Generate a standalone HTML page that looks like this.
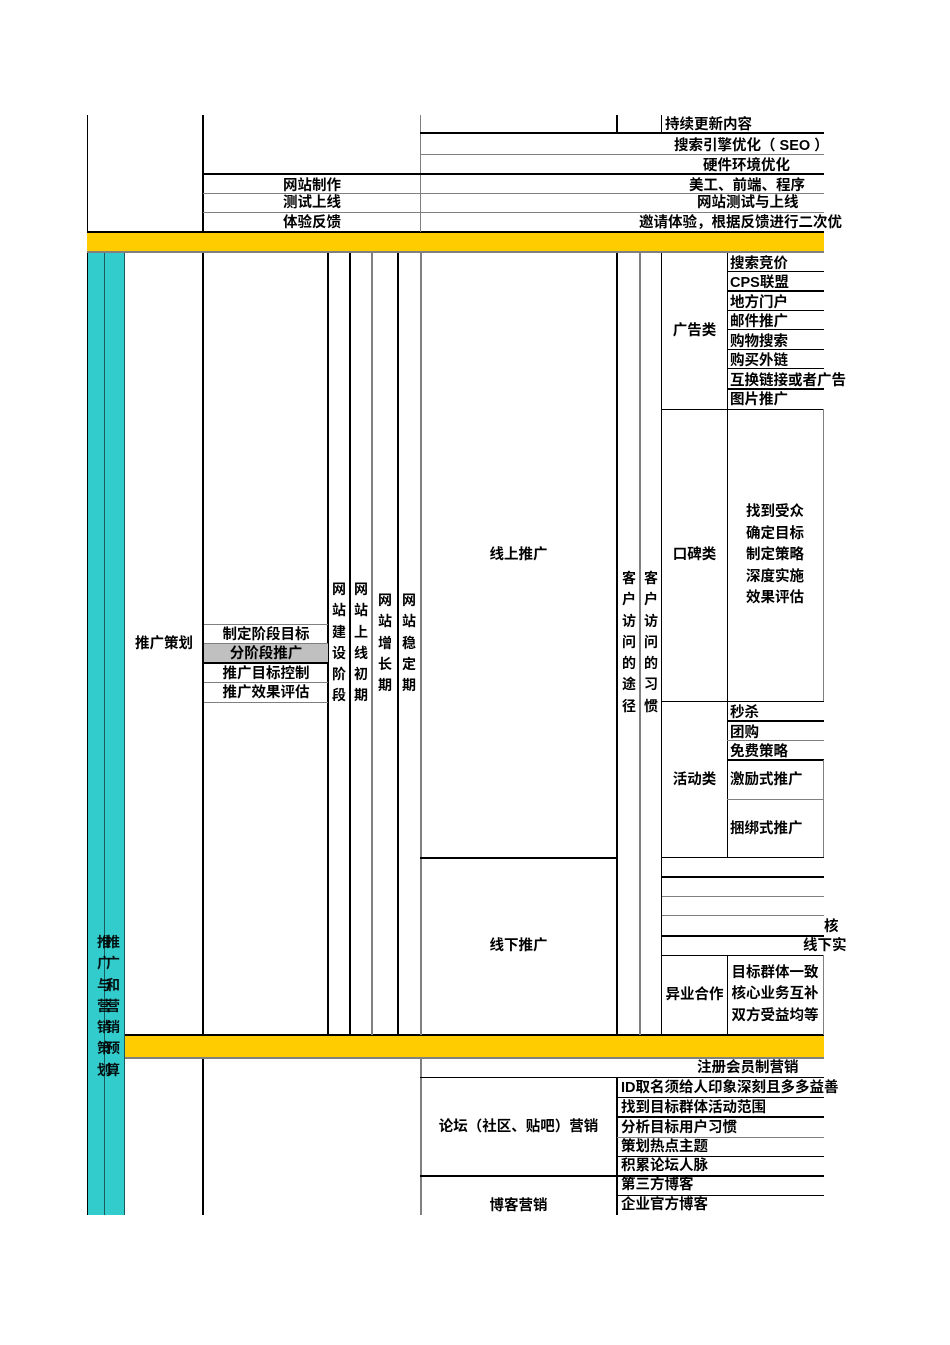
<!DOCTYPE html>
<html><head><meta charset="utf-8">
<style>
*{margin:0;padding:0;box-sizing:border-box}
body{width:950px;height:1345px;background:#fff;position:relative;overflow:hidden;font-family:"Liberation Sans","Noto Sans CJK SC","WenQuanYi Zen Hei",sans-serif;font-weight:bold;font-size:14.5px;color:#000}
div{position:absolute}
.k{background:#000}
.g{background:#808080}
.t{white-space:nowrap;line-height:16px;height:16px;margin-top:1px}
.c{text-align:center}
.v{width:18px;text-align:center;line-height:21.3px;white-space:normal;font-size:14px}
</style></head><body>
<div style="left:87px;top:232px;width:737px;height:20px;background:#ffcc00"></div>
<div style="left:125px;top:1035px;width:699px;height:23px;background:#ffcc00"></div>
<div class="k" style="left:87px;top:231px;width:737px;height:2px"></div>
<div class="g" style="left:87px;top:251px;width:737px;height:2px"></div>
<div class="k" style="left:125px;top:1034px;width:699px;height:2px"></div>
<div class="g" style="left:125px;top:1057px;width:699px;height:2px"></div>
<div style="left:87px;top:253px;width:38px;height:962px;background:#33cccc"></div>
<div class="k" style="left:87px;top:253px;width:1px;height:962px"></div>
<div style="left:104px;top:253px;width:1px;height:962px;background:#1a5a5a"></div>
<div style="left:124px;top:253px;width:1px;height:962px;background:#1a5a5a"></div>
<div class="v" style="left:95px;top:932px;opacity:.9">推广与营销策划</div>
<div class="v" style="left:104px;top:932px;opacity:.9">推广和营销预算</div>

<div class="k" style="left:87px;top:115px;width:1px;height:117px"></div>
<div class="k" style="left:202px;top:115px;width:2px;height:117px"></div>
<div class="g" style="left:420px;top:115px;width:1px;height:117px"></div>
<div class="k" style="left:616px;top:115px;width:2px;height:18px"></div>
<div class="k" style="left:661px;top:115px;width:1px;height:18px"></div>
<div class="k" style="left:420px;top:132px;width:404px;height:2px"></div>
<div class="g" style="left:420px;top:154px;width:404px;height:1px"></div>
<div class="k" style="left:203px;top:173px;width:621px;height:2px"></div>
<div class="g" style="left:203px;top:193px;width:621px;height:1px"></div>
<div class="g" style="left:203px;top:212px;width:621px;height:1px"></div>
<div class="t" style="left:665px;top:116px">持续更新内容</div>
<div class="t" style="left:674px;top:137px">搜索引擎优化（ SEO ）</div>
<div class="t" style="left:703px;top:157px">硬件环境优化</div>
<div class="t" style="left:689px;top:177px">美工、前端、程序</div>
<div class="t" style="left:697px;top:194px">网站测试与上线</div>
<div class="t" style="left:639px;top:214px">邀请体验，根据反馈进行二次优</div>
<div class="t c" style="left:203px;width:218px;top:177px">网站制作</div>
<div class="t c" style="left:203px;width:218px;top:194px">测试上线</div>
<div class="t c" style="left:203px;width:218px;top:214px">体验反馈</div>

<div class="k" style="left:202px;top:253px;width:2px;height:782px"></div>
<div class="k" style="left:327px;top:253px;width:2px;height:782px"></div>
<div class="k" style="left:349px;top:253px;width:2px;height:782px"></div>
<div class="g" style="left:371px;top:253px;width:2px;height:782px"></div>
<div class="k" style="left:397px;top:253px;width:2px;height:782px"></div>
<div class="g" style="left:420px;top:253px;width:2px;height:782px"></div>
<div class="k" style="left:616px;top:253px;width:2px;height:782px"></div>
<div class="g" style="left:639px;top:253px;width:2px;height:782px"></div>
<div class="k" style="left:661px;top:253px;width:1px;height:782px"></div>
<div class="k" style="left:420px;top:857px;width:197px;height:2px"></div>

<div style="left:204px;top:643px;width:124px;height:19px;background:#c0c0c0"></div>
<div class="g" style="left:204px;top:624px;width:124px;height:1px"></div>
<div class="g" style="left:204px;top:643px;width:124px;height:1px"></div>
<div class="k" style="left:204px;top:662px;width:124px;height:2px"></div>
<div class="g" style="left:204px;top:682px;width:124px;height:1px"></div>
<div class="g" style="left:204px;top:702px;width:124px;height:1px"></div>
<div class="t c" style="left:204px;width:124px;top:626px">制定阶段目标</div>
<div class="t c" style="left:204px;width:124px;top:645px">分阶段推广</div>
<div class="t c" style="left:204px;width:124px;top:665px">推广目标控制</div>
<div class="t c" style="left:204px;width:124px;top:684px">推广效果评估</div>
<div class="t c" style="left:125px;width:78px;top:635px">推广策划</div>
<div class="v" style="left:330px;top:579px">网站建设阶段</div>
<div class="v" style="left:352px;top:579px">网站上线初期</div>
<div class="v" style="left:376px;top:590px">网站增长期</div>
<div class="v" style="left:400px;top:590px">网站稳定期</div>
<div class="v" style="left:620px;top:568px">客户访问的途径</div>
<div class="v" style="left:642px;top:568px">客户访问的习惯</div>
<div class="t c" style="left:420px;width:197px;top:546px">线上推广</div>
<div class="t c" style="left:420px;width:197px;top:937px">线下推广</div>

<div class="k" style="left:727px;top:253px;width:1px;height:156px"></div>
<div class="k" style="left:727px;top:271px;width:97px;height:1px"></div>
<div class="k" style="left:727px;top:290px;width:97px;height:2px"></div>
<div class="k" style="left:727px;top:310px;width:97px;height:1px"></div>
<div class="k" style="left:727px;top:329px;width:97px;height:1px"></div>
<div class="k" style="left:727px;top:349px;width:97px;height:1px"></div>
<div class="k" style="left:727px;top:368px;width:97px;height:1px"></div>
<div class="k" style="left:727px;top:388px;width:97px;height:2px"></div>
<div class="k" style="left:662px;top:409px;width:162px;height:1px"></div>
<div class="t" style="left:730px;top:255px">搜索竞价</div>
<div class="t" style="left:730px;top:274px">CPS联盟</div>
<div class="t" style="left:730px;top:294px">地方门户</div>
<div class="t" style="left:730px;top:313px">邮件推广</div>
<div class="t" style="left:730px;top:333px">购物搜索</div>
<div class="t" style="left:730px;top:352px">购买外链</div>
<div class="t" style="left:730px;top:372px">互换链接或者广告</div>
<div class="t" style="left:730px;top:391px">图片推广</div>
<div class="t c" style="left:662px;width:65px;top:322px">广告类</div>

<div class="k" style="left:727px;top:409px;width:1px;height:293px"></div>
<div class="g" style="left:823px;top:409px;width:1px;height:293px"></div>
<div class="k" style="left:662px;top:701px;width:162px;height:1px"></div>
<div class="t c" style="left:662px;width:65px;top:546px">口碑类</div>
<div class="c" style="left:727px;width:96px;top:502px;line-height:21.5px">找到受众<br>确定目标<br>制定策略<br>深度实施<br>效果评估</div>

<div class="k" style="left:727px;top:702px;width:1px;height:156px"></div>
<div class="k" style="left:727px;top:720px;width:97px;height:2px"></div>
<div class="g" style="left:727px;top:740px;width:97px;height:1px"></div>
<div class="k" style="left:727px;top:759px;width:97px;height:2px"></div>
<div class="g" style="left:727px;top:799px;width:97px;height:1px"></div>
<div class="g" style="left:823px;top:760px;width:1px;height:98px"></div>
<div class="k" style="left:662px;top:857px;width:162px;height:1px"></div>
<div class="t" style="left:730px;top:704px">秒杀</div>
<div class="t" style="left:730px;top:724px">团购</div>
<div class="t" style="left:730px;top:743px">免费策略</div>
<div class="t" style="left:730px;top:771px">激励式推广</div>
<div class="t" style="left:730px;top:820px">捆绑式推广</div>
<div class="t c" style="left:662px;width:65px;top:771px">活动类</div>

<div class="k" style="left:662px;top:876px;width:162px;height:2px"></div>
<div class="g" style="left:662px;top:896px;width:162px;height:1px"></div>
<div class="g" style="left:662px;top:915px;width:162px;height:1px"></div>
<div class="k" style="left:662px;top:935px;width:162px;height:2px"></div>
<div class="k" style="left:662px;top:955px;width:162px;height:1px"></div>
<div class="t" style="left:824px;top:918px">核</div>
<div class="t" style="left:803px;top:937px">线下实</div>
<div class="k" style="left:727px;top:955px;width:1px;height:80px"></div>
<div class="g" style="left:823px;top:955px;width:1px;height:80px"></div>
<div class="t c" style="left:662px;width:65px;top:986px">异业合作</div>
<div class="c" style="left:727px;width:96px;top:963px;line-height:21.3px">目标群体一致<br>核心业务互补<br>双方受益均等</div>

<div class="k" style="left:202px;top:1059px;width:2px;height:156px"></div>
<div class="g" style="left:420px;top:1059px;width:2px;height:156px"></div>
<div class="k" style="left:616px;top:1078px;width:2px;height:137px"></div>
<div class="k" style="left:420px;top:1077px;width:404px;height:1px"></div>
<div class="k" style="left:617px;top:1097px;width:207px;height:1px"></div>
<div class="k" style="left:617px;top:1116px;width:207px;height:2px"></div>
<div class="g" style="left:617px;top:1137px;width:207px;height:1px"></div>
<div class="k" style="left:617px;top:1156px;width:207px;height:1px"></div>
<div class="k" style="left:420px;top:1175px;width:404px;height:2px"></div>
<div class="k" style="left:617px;top:1195px;width:207px;height:1px"></div>
<div class="t" style="left:697px;top:1059px">注册会员制营销</div>
<div class="t c" style="left:420px;width:197px;top:1118px">论坛（社区、贴吧）营销</div>
<div class="t c" style="left:420px;width:197px;top:1197px">博客营销</div>
<div class="t" style="left:621px;top:1079px">ID取名须给人印象深刻且多多益善</div>
<div class="t" style="left:621px;top:1099px">找到目标群体活动范围</div>
<div class="t" style="left:621px;top:1119px">分析目标用户习惯</div>
<div class="t" style="left:621px;top:1138px">策划热点主题</div>
<div class="t" style="left:621px;top:1157px">积累论坛人脉</div>
<div class="t" style="left:621px;top:1176px">第三方博客</div>
<div class="t" style="left:621px;top:1196px">企业官方博客</div>
</body></html>
